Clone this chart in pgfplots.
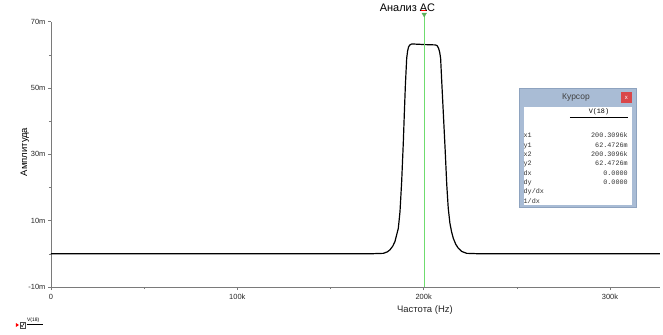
\documentclass[border=0pt]{standalone}
\usepackage{pgfplots}
\pgfplotsset{compat=1.18}
\usepackage{fontspec}
\setmainfont{Liberation Sans}
\newfontfamily\monofont{Liberation Mono}
\definecolor{axgray}{HTML}{7A7A7A}
\definecolor{curgreen}{HTML}{6FDC6F}
\definecolor{boxblue}{HTML}{A9BCD5}
\definecolor{boxedge}{HTML}{8EA3BF}
\definecolor{closered}{HTML}{D9474A}
\begin{document}
\begin{tikzpicture}
\begin{axis}[
  at={(0,0)}, anchor=south west,
  scale only axis, width=609bp, height=265.3bp,
  xmin=0, xmax=326.8, ymin=-10, ymax=70,
  axis x line*=bottom, axis y line*=left,
  axis line style={draw=axgray, line width=0.8pt, -},
  xtick={0,100,200,300}, xticklabels={0,100k,200k,300k},
  minor xtick={50,150,250},
  ytick={-10,10,30,50,70}, yticklabels={-10m,10m,30m,50m,70m},
  minor ytick={0,20,40,60},
  tick align=outside, major tick length=3bp, minor tick length=2bp,
  every tick/.style={draw=axgray, line width=0.6pt},
  minor tick style={draw=axgray, line width=0.6pt},
  xticklabel style={font=\fontsize{7.5}{8}\selectfont, text=black!85, yshift=-1bp},
  yticklabel style={font=\fontsize{7.5}{8}\selectfont, text=black!85, xshift=1bp},
  clip=false,
]
\addplot[color=black, line width=1.2pt, line join=round] coordinates {
(0,0) (150,0) (171.2,0.02) (178.4,0.15) (180.5,0.6) (181.9,1.2) (183.4,2.3) (184.6,3.7) (186.4,7.7)
(187.3,12.7) (188.2,21.8) (189.1,33.8) (189.6,41.9) (190.2,51) (190.9,59)
(191.4,61.2) (191.9,62.4) (192.6,63.0) (193.6,63.3) (200.7,63.1) (206.2,63.0) (207.2,62.8) (208.0,62.0) (208.6,60.8) (209.1,59)
(209.7,52) (210.6,41.9) (211.5,31.8) (212.4,20.8) (213.2,13.7) (214.1,9.2)
(215.0,6.6) (215.9,4.7) (217.2,2.9) (218.6,1.7) (220.5,0.7) (223.1,0.15) (230.2,0.02) (250,0) (326.8,0)
};
\addplot[color=curgreen, line width=0.8pt] coordinates {(200.31,-10) (200.31,72)};
\addplot[only marks, mark=triangle*, mark size=2.6pt,
  mark options={rotate=180, fill=curgreen!80!black, draw=curgreen!80!black}]
  coordinates {(200.31,72.2)};
\addplot[color=red, line width=0.8pt] coordinates {(198.7,73.3) (201.9,73.3)};
\end{axis}
% title and axis labels
\node[font=\fontsize{11}{12}\selectfont, anchor=base] at (356.5bp,275bp) {Анализ AC};
\node[font=\fontsize{9.5}{10}\selectfont, rotate=90] at (-26bp,135bp) {Амплитуда};
\node[font=\fontsize{9.5}{10}\selectfont, text=black!85] at (374bp,-23bp) {Частота (Hz)};
% legend
\fill[red] (-35bp,-36bp) -- (-32bp,-38bp) -- (-35bp,-40bp) -- cycle;
\draw[black!70, line width=0.5pt] (-31bp,-41bp) rectangle (-26bp,-35.5bp);
\draw[black, line width=0.5pt] (-30.2bp,-38bp) -- (-28.8bp,-39.8bp) -- (-26.8bp,-36bp);
\node[font=\fontsize{5}{5}\selectfont, anchor=base west, inner sep=0pt] at (-24bp,-34bp) {V(18)};
\draw[black, line width=0.9pt] (-24bp,-37bp) -- (-8bp,-37bp);
% cursor box
\fill[boxblue] (468bp,80bp) rectangle (585bp,199bp);
\draw[boxedge, line width=0.5pt] (468bp,80bp) rectangle (585bp,199bp);
\fill[white] (473bp,82bp) rectangle (581bp,180bp);
\node[font=\fontsize{8.5}{9}\selectfont, text=black!75] at (525bp,190bp) {Курсор};
\fill[closered] (570bp,183.5bp) rectangle (581bp,195bp);
\node[font=\fontsize{6}{6}\selectfont, text=white] at (575.5bp,189.2bp) {x};
\node[font=\monofont\fontsize{6.8}{7}\selectfont, anchor=base] at (548bp,173.5bp) {V(18)};
\draw[black, line width=0.9pt] (519bp,170bp) -- (577bp,170bp);
\begin{scope}[every node/.style={font=\monofont\fontsize{6.8}{7}\selectfont, inner sep=0pt, text=black!80}]
\node[anchor=base west] at (472.5bp,149bp) {x1};
\node[anchor=base east] at (577bp,149bp) {200.3096k};
\node[anchor=base west] at (472.5bp,139.7bp) {y1};
\node[anchor=base east] at (577bp,139.7bp) {62.4726m};
\node[anchor=base west] at (472.5bp,130.4bp) {x2};
\node[anchor=base east] at (577bp,130.4bp) {200.3096k};
\node[anchor=base west] at (472.5bp,121.1bp) {y2};
\node[anchor=base east] at (577bp,121.1bp) {62.4726m};
\node[anchor=base west] at (472.5bp,111.8bp) {dx};
\node[anchor=base east] at (577bp,111.8bp) {0.0000};
\node[anchor=base west] at (472.5bp,102.5bp) {dy};
\node[anchor=base east] at (577bp,102.5bp) {0.0000};
\node[anchor=base west] at (472.5bp,93.2bp) {dy/dx};
\node[anchor=base west] at (472.5bp,83.9bp) {1/dx};
\end{scope}
\pgfresetboundingbox
\path[use as bounding box] (-50.95bp,-48bp) rectangle (612.05bp,287bp);
\end{tikzpicture}
\end{document}
